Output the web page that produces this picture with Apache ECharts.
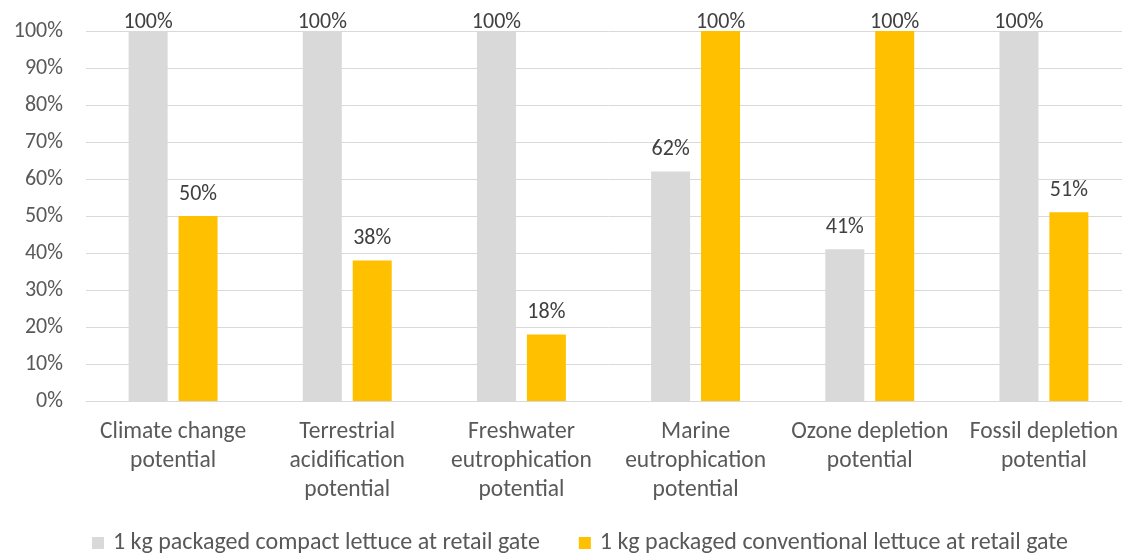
<!DOCTYPE html>
<html>
<head>
<meta charset="utf-8">
<script src="https://cdn.jsdelivr.net/npm/echarts@6/dist/echarts.min.js"></script>
<style>
  html, body { margin: 0; padding: 0; background: #ffffff; overflow: hidden; }
  /* plot area runs slightly past the right edge of the page */
  #chart { width: 1131px; height: 555px; }
</style>
</head>
<body>
<div id="chart"></div>
<script>
// Impact categories (x axis)
const categories = [
  'Climate change\npotential',
  'Terrestrial\nacidification\npotential',
  'Freshwater\neutrophication\npotential',
  'Marine\neutrophication\npotential',
  'Ozone depletion\npotential',
  'Fossil depletion\npotential'
];

// Relative impact, percent of the higher of the two products
const compactValues = [100, 100, 100, 62, 41, 100];
const conventionalValues = [50, 38, 18, 100, 100, 51];

const seriesNames = [
  '1 kg packaged compact lettuce at retail gate',
  '1 kg packaged conventional lettuce at retail gate'
];

const yTicks = { min: 0, max: 100, interval: 10 };

const FONT = 'Carlito, Calibri, Lato, sans-serif';

// labels of full-height bars are kept inside the plot top, so they sit lower
const withLabelClamp = values => values.map(v =>
  v >= yTicks.max ? { value: v, label: { offset: [0, 13] } } : v
);

const chart = echarts.init(document.getElementById('chart'), null, { renderer: 'canvas' });

const barLabel = {
  show: true,
  position: 'top',
  distance: 11,
  formatter: p => p.value + '%',
  color: '#404040',
  fontFamily: FONT,
  fontSize: 22
};

chart.setOption({
  animation: false,
  grid: { left: 86, top: 31, right: 0, height: 370, containLabel: false },
  legend: {
    data: seriesNames,
    top: 526,
    left: 87,
    itemWidth: 12,
    itemHeight: 12,
    itemGap: 39,
    icon: 'rect',
    textStyle: { color: '#595959', fontFamily: FONT, fontSize: 24, padding: [0, 0, 0, 4] }
  },
  xAxis: {
    type: 'category',
    data: categories,
    axisLine: { lineStyle: { color: '#d9d9d9', width: 1 } },
    axisTick: { show: false },
    axisLabel: {
      color: '#595959',
      fontFamily: FONT,
      fontSize: 23.5,
      lineHeight: 29,
      margin: 17,
      interval: 0
    }
  },
  yAxis: {
    type: 'value',
    min: yTicks.min,
    max: yTicks.max,
    interval: yTicks.interval,
    axisLine: { show: false },
    axisTick: { show: false },
    splitLine: { lineStyle: { color: '#d9d9d9', width: 1 } },
    axisLabel: {
      formatter: v => v + '%',
      color: '#595959',
      fontFamily: FONT,
      fontSize: 22,
      margin: 23
    }
  },
  series: [
    {
      name: seriesNames[0],
      type: 'bar',
      data: withLabelClamp(compactValues),
      barWidth: 39,
      barGap: '28%',
      itemStyle: { color: '#d9d9d9' },
      label: barLabel
    },
    {
      name: seriesNames[1],
      type: 'bar',
      data: withLabelClamp(conventionalValues),
      barWidth: 39,
      itemStyle: { color: '#ffc000' },
      label: barLabel
    }
  ]
});
</script>
</body>
</html>
